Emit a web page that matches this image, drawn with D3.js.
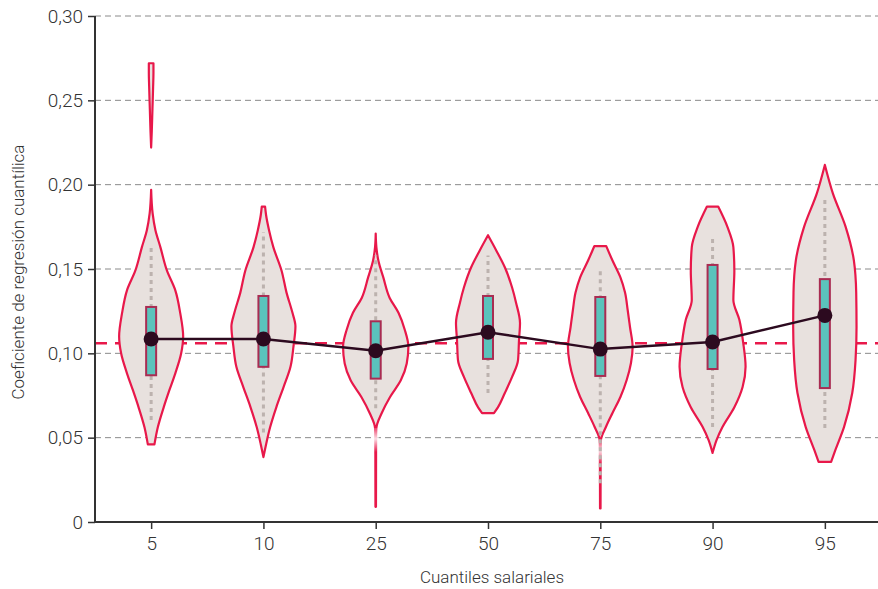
<!DOCTYPE html>
<html>
<head>
<meta charset="utf-8">
<script src="https://cdn.jsdelivr.net/npm/d3@7"></script>
<style>
  html, body { margin: 0; padding: 0; background: #ffffff; }
  svg { display: block; }
  text { font-family: "Roboto", "Liberation Sans", sans-serif; font-weight: 300; fill: #333333; }
</style>
</head>
<body>
<svg id="chart" width="878" height="589"></svg>
<script>
// ---------- DATA ----------
const categories = ["5", "10", "25", "50", "75", "90", "95"];
const medians   = [0.1085, 0.1085, 0.1015, 0.1125, 0.1025, 0.1067, 0.1225];
const q1        = [0.0870, 0.0920, 0.0850, 0.0967, 0.0866, 0.0907, 0.0794];
const q3        = [0.1275, 0.1340, 0.1190, 0.1340, 0.1334, 0.1524, 0.1440];
const whiskerLo = [0.0605, 0.0530, 0.0675, 0.0765, 0.0230, 0.0563, 0.0557];
const whiskerHi = [0.1630, 0.1720, 0.1580, 0.1580, 0.1506, 0.1696, 0.1920];
const meanValue = 0.106;
const yTicks = [0, 0.05, 0.10, 0.15, 0.20, 0.25, 0.30];
const xTitle = "Cuantiles salariales";
const yTitle = "Coeficiente de regresión cuantílica";

// violin density profiles: [value, relative density]
const density5  = [[0.046,0.10],[0.056,0.20],[0.068,0.38],[0.078,0.55],[0.088,0.73],[0.100,0.91],[0.110,0.97],[0.124,0.88],[0.1375,0.73],[0.149,0.48],[0.163,0.28],[0.173,0.13],[0.183,0.045],[0.197,0.0],[0.210,0.0],[0.222,0.0],[0.232,0.02],[0.245,0.04],[0.258,0.06],[0.266,0.07],[0.272,0.07]];
const density10 = [[0.0385,0.0],[0.046,0.08],[0.056,0.20],[0.068,0.39],[0.080,0.61],[0.092,0.82],[0.104,0.91],[0.116,0.97],[0.124,0.88],[0.136,0.70],[0.149,0.55],[0.163,0.30],[0.173,0.17],[0.182,0.08],[0.187,0.05]];
const density25 = [[0.009,0.008],[0.030,0.01],[0.050,0.012],[0.0557,0.02],[0.0645,0.18],[0.074,0.43],[0.084,0.76],[0.094,0.94],[0.104,0.99],[0.114,0.88],[0.124,0.69],[0.133,0.42],[0.145,0.23],[0.155,0.08],[0.163,0.02],[0.171,0.0]];
const density50 = [[0.0646,0.18],[0.068,0.30],[0.0765,0.51],[0.086,0.73],[0.096,0.91],[0.108,0.94],[0.118,0.97],[0.130,0.85],[0.139,0.73],[0.151,0.51],[0.161,0.25],[0.170,0.0]];
const density75 = [[0.008,0.008],[0.030,0.01],[0.045,0.015],[0.0486,0.02],[0.0563,0.17],[0.0646,0.37],[0.0741,0.61],[0.0842,0.80],[0.0943,0.93],[0.1038,0.98],[0.1156,0.90],[0.1257,0.83],[0.136,0.75],[0.145,0.61],[0.155,0.37],[0.1636,0.18]];
const density90 = [[0.041,0.0],[0.0486,0.12],[0.0563,0.30],[0.068,0.66],[0.080,0.91],[0.092,1.0],[0.106,0.93],[0.120,0.81],[0.1316,0.63],[0.149,0.66],[0.163,0.63],[0.175,0.45],[0.187,0.17]];
const density95 = [[0.0356,0.19],[0.0427,0.32],[0.0563,0.58],[0.0765,0.83],[0.096,0.93],[0.1156,0.96],[0.136,0.95],[0.155,0.88],[0.175,0.63],[0.195,0.24],[0.2117,0.0]];
const densities = [density5, density10, density25, density50, density75, density90, density95];

// ---------- CHART ----------
const W = 878, H = 589;
const m = { left: 95, right: 0, top: 16, bottom: 67 };
const svg = d3.select("#chart");
const defs = svg.append("defs");

const x = d3.scalePoint().domain(categories).range([m.left, m.left + 786]).padding(0.5);
const y = d3.scaleLinear().domain([0, 0.30]).range([H - m.bottom, m.top]);
const wScale = d3.scaleLinear().domain([0, 1]).range([0, 33]);

const colors = {
  grid: "#8a8a8a", axis: "#333333", violinFill: "#e8e1de", violinStroke: "#e8184a",
  boxFill: "#5bc3bc", boxStroke: "#a92c52", whisker: "#bcb2ae", median: "#2c0a1f", mean: "#e8184a"
};

// gridlines
svg.append("g").selectAll("line").data(yTicks.filter(d => d > 0)).join("line")
  .attr("x1", m.left).attr("x2", W)
  .attr("y1", d => y(d)).attr("y2", d => y(d))
  .attr("stroke", colors.grid).attr("stroke-width", 1).attr("stroke-dasharray", "6,4");

// mean line
svg.append("line")
  .attr("x1", m.left).attr("x2", W)
  .attr("y1", y(meanValue)).attr("y2", y(meanValue))
  .attr("stroke", colors.mean).attr("stroke-width", 2.5).attr("stroke-dasharray", "12,8");

// violins
const violins = svg.append("g");
categories.forEach((c, i) => {
  const cx = x(c);
  const prof = densities[i];
  const segs = [];
  let cur = [];
  prof.forEach((p, j) => {
    if (p[1] > 0) {
      if (cur.length === 0 && j > 0 && prof[j - 1][1] === 0) cur.push(prof[j - 1]);
      cur.push(p);
    } else {
      if (cur.length) { cur.push(p); segs.push(cur); cur = []; }
    }
  });
  if (cur.length) segs.push(cur);
  const area = d3.area()
    .y(d => y(d[0]))
    .x0(d => cx - wScale(d[1]))
    .x1(d => cx + wScale(d[1]))
    .curve(d3.curveMonotoneY);
  segs.forEach(s => {
    violins.append("path")
      .attr("d", area(s))
      .attr("fill", colors.violinFill)
      .attr("stroke", colors.violinStroke)
      .attr("stroke-width", 2.2)
      .attr("stroke-linejoin", "round");
  });
  // long thin lower tails: soften just below the body with a white fade
  const lower = prof.filter(p => p[0] < medians[i] && p[1] > 0 && p[1] <= 0.02);
  if (lower.length >= 3) {
    const top = d3.max(lower, p => p[0]);
    const y0 = y(top), y1 = y0 + 24;
    const gid = "fade" + i;
    const grad = defs.append("linearGradient")
      .attr("id", gid).attr("x1", 0).attr("x2", 0).attr("y1", 0).attr("y2", 1);
    grad.append("stop").attr("offset", "0%").attr("stop-color", "#fff").attr("stop-opacity", 0.2);
    grad.append("stop").attr("offset", "45%").attr("stop-color", "#fff").attr("stop-opacity", 0.85);
    grad.append("stop").attr("offset", "100%").attr("stop-color", "#fff").attr("stop-opacity", 0);
    violins.append("rect")
      .attr("x", cx - 3).attr("width", 6)
      .attr("y", y0).attr("height", y1 - y0)
      .attr("fill", `url(#${gid})`);
  }
});

// whiskers
svg.append("g").selectAll("line").data(categories).join("line")
  .attr("x1", d => x(d)).attr("x2", d => x(d))
  .attr("y1", (d, i) => y(whiskerLo[i])).attr("y2", (d, i) => y(whiskerHi[i]))
  .attr("stroke", colors.whisker).attr("stroke-width", 3).attr("stroke-dasharray", "4,4");

// boxes
const bw = 10;
svg.append("g").selectAll("rect").data(categories).join("rect")
  .attr("x", d => x(d) - bw / 2).attr("width", bw)
  .attr("y", (d, i) => y(q3[i])).attr("height", (d, i) => y(q1[i]) - y(q3[i]))
  .attr("fill", colors.boxFill).attr("stroke", colors.boxStroke).attr("stroke-width", 2);

// median line + dots
svg.append("path")
  .datum(categories)
  .attr("d", d3.line().x(d => x(d)).y((d, i) => y(medians[i])))
  .attr("fill", "none").attr("stroke", colors.median).attr("stroke-width", 2.5);
svg.append("g").selectAll("circle").data(categories).join("circle")
  .attr("cx", d => x(d)).attr("cy", (d, i) => y(medians[i])).attr("r", 7.5)
  .attr("fill", colors.median);

// axes
const fmt = d => d === 0 ? "0" : d.toFixed(2).replace(".", ",");
const yAxis = svg.append("g").attr("transform", `translate(${m.left},0)`)
  .call(d3.axisLeft(y).tickValues(yTicks).tickFormat(fmt).tickSize(7).tickPadding(5));
const xAxis = svg.append("g").attr("transform", `translate(0,${H - m.bottom})`)
  .call(d3.axisBottom(x).tickSize(7).tickPadding(8));
[yAxis, xAxis].forEach(g => {
  g.select(".domain").attr("stroke", colors.axis).attr("stroke-width", 2);
  g.selectAll(".tick line").attr("stroke", colors.axis).attr("stroke-width", 1.5);
  g.selectAll(".tick text").attr("font-size", 19).attr("fill", "#333333")
    .style("font-family", '"Roboto", sans-serif').style("font-weight", 300);
});
xAxis.select(".domain").attr("d", `M${m.left},0H${W}`);
yAxis.select(".domain").attr("d", `M0,${m.top}V${H - m.bottom}`);

// titles
svg.append("text")
  .attr("x", 492).attr("y", 583)
  .attr("text-anchor", "middle").attr("font-size", 17)
  .text(xTitle);
svg.append("text")
  .attr("transform", `translate(24,272) rotate(-90)`)
  .attr("text-anchor", "middle").attr("font-size", 17)
  .text(yTitle);
</script>
</body>
</html>
